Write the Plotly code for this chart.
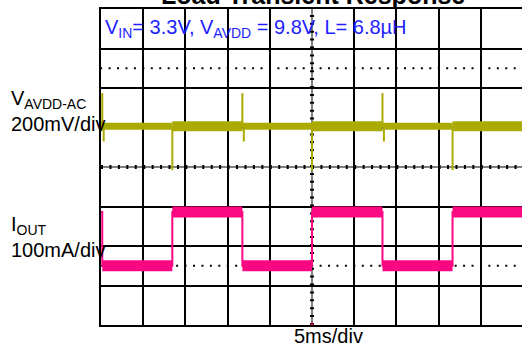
import plotly.graph_objects as go

# ---------------- data ----------------
edge_times_ms = [-24.85, -16.55, -8.25, 0.0, 8.35, 16.65]      # load-step edges
iout_levels_mA = [186, 50, 186, 50, 186, 50, 186]               # level before 1st edge, then after each edge
vout_spike_pos_mV = [168, 0, 168, 0, 168, 0]                     # overshoot at each edge
vout_spike_neg_mV = [-77, -222, -77, -222, -77, -222]            # undershoot at each edge
vout_spike_neg_delay_ms = [0.17, 0.0, 0.17, 0.0, 0.17, 0.0]
time_range_ms = [-25.0, 24.88]
v_scale_mV_per_div = 200
i_scale_mA_per_div = 100
ch1_ground_div = 1.03
ch2_ground_div = -3.0
x_grid_ms = [-20, -15, -10, -5, 5, 10, 15, 20]
y_grid_div = [-3, -2, -1, 1, 2, 3]

# ---------------- styles ----------------
YEL = "#AAAA00"
PINK = "#FA0882"
BLUE = "#1E1EFF"
FONT = "Liberation Sans, Arial, sans-serif"
W, H = 522, 344

t0, t1 = time_range_ms
i_hi = max(iout_levels_mA)

def idiv(mA):
    return ch2_ground_div + mA / i_scale_mA_per_div

def vdiv(mV):
    return ch1_ground_div + mV / v_scale_mV_per_div

# current step trace (thin)
sx, sy = [t0], [idiv(iout_levels_mA[0])]
for k, t in enumerate(edge_times_ms):
    sx += [t, t]
    sy += [idiv(iout_levels_mA[k]), idiv(iout_levels_mA[k + 1])]
sx.append(t1)
sy.append(idiv(iout_levels_mA[-1]))

# plateaus (noise bands)
bounds = [t0] + edge_times_ms + [t1]
ibx, iby = [], []
vlx, vly, vhx, vhy = [], [], [], []
for k in range(len(bounds) - 1):
    a, b = bounds[k], bounds[k + 1]
    lvl = iout_levels_mA[k]
    if k > 0:
        ibx += [a, b, None]
        iby += [idiv(lvl), idiv(lvl), None]
    if lvl == i_hi:
        vhx += [a, b, None]; vhy += [vdiv(0), vdiv(0), None]
    else:
        vlx += [a, b, None]; vly += [vdiv(0), vdiv(0), None]

# spikes on VAVDD
spx, spy = [], []
for t, p, n, d in zip(edge_times_ms, vout_spike_pos_mV, vout_spike_neg_mV, vout_spike_neg_delay_ms):
    if p:
        spx += [t, t, None]; spy += [vdiv(0), vdiv(p), None]
    spx += [t + d, t + d, None]; spy += [vdiv(0), vdiv(n), None]

fig = go.Figure()

# graticule extras
fig.add_trace(go.Scatter(x=[t0, t1], y=[0, 0], mode="lines", line=dict(color="black", width=1), hoverinfo="skip"))
fig.add_trace(go.Scatter(x=[t0, t1], y=[0, 0], mode="lines", line=dict(color="black", width=4, dash="2px,6.44px"), hoverinfo="skip"))
fig.add_trace(go.Scatter(x=[0, 0], y=[-4, 4], mode="lines", line=dict(color="black", width=1), hoverinfo="skip"))
fig.add_trace(go.Scatter(x=[0, 0], y=[-4, 4], mode="lines", line=dict(color="black", width=4, dash="2px,5.9px"), hoverinfo="skip"))
for yy in (2.5, -2.5):
    fig.add_trace(go.Scatter(x=[t0 - 0.1, t1], y=[yy, yy], mode="lines",
                             line=dict(color="black", width=2, dash="2px,6.44px"), hoverinfo="skip"))

# VAVDD trace
fig.add_trace(go.Scatter(x=vlx, y=vly, mode="lines", line=dict(color=YEL, width=7), hoverinfo="skip"))
fig.add_trace(go.Scatter(x=vhx, y=vhy, mode="lines", line=dict(color=YEL, width=10), hoverinfo="skip"))
fig.add_trace(go.Scatter(x=spx, y=spy, mode="lines", line=dict(color=YEL, width=2), hoverinfo="skip"))

# IOUT trace
fig.add_trace(go.Scatter(x=sx, y=sy, mode="lines", line=dict(color=PINK, width=2, shape="linear"), hoverinfo="skip"))
fig.add_trace(go.Scatter(x=ibx, y=iby, mode="lines", line=dict(color=PINK, width=11), hoverinfo="skip"))

# channel ground markers & trigger marker
fig.add_trace(go.Scatter(x=[t0 - 0.45], y=[ch2_ground_div], mode="markers", cliponaxis=False,
                         marker=dict(symbol="line-ew", size=8, line=dict(color=PINK, width=2)), hoverinfo="skip"))
fig.add_trace(go.Scatter(x=[t0 - 0.45], y=[ch1_ground_div], mode="markers", cliponaxis=False,
                         marker=dict(symbol="line-ew", size=8, line=dict(color=YEL, width=3)), hoverinfo="skip"))
fig.add_trace(go.Scatter(x=[0], y=[-4], mode="markers", cliponaxis=False,
                         marker=dict(symbol="square", size=3, color=PINK), hoverinfo="skip"))

def py(pix):
    return (H - pix) / H

ann = [
    dict(text="<b>Load Transient Response</b>", x=312.5 / W, y=py(11.3), xanchor="center", yanchor="bottom",
         font=dict(size=25, color="black")),
    dict(text="V<sub>IN</sub>= 3.3V, V<sub>AVDD</sub> = 9.8V, L= 6.8µH", x=103 / W, y=py(28.9),
         xanchor="left", yanchor="middle", font=dict(size=20, color=BLUE)),
    dict(text="V<sub>AVDD-AC</sub>", x=8.5 / W, y=py(99.6), xanchor="left", yanchor="middle",
         font=dict(size=20, color="black")),
    dict(text="200mV/div", x=8.5 / W, y=py(124.1), xanchor="left", yanchor="middle",
         font=dict(size=20, color="black")),
    dict(text="I<sub>OUT</sub>", x=8.5 / W, y=py(225.6), xanchor="left", yanchor="middle",
         font=dict(size=20, color="black")),
    dict(text="100mA/div", x=8.5 / W, y=py(249.8), xanchor="left", yanchor="middle",
         font=dict(size=20, color="black")),
    dict(text="5ms/div", x=328.5 / W, y=py(335.8), xanchor="center", yanchor="middle",
         font=dict(size=20, color="black")),
]
for a in ann:
    a.update(xref="paper", yref="paper", showarrow=False, borderpad=1)

fig.update_layout(
    width=W, height=H, autosize=False,
    margin=dict(l=0, r=0, t=0, b=0, pad=0),
    paper_bgcolor="white", plot_bgcolor="white",
    showlegend=False,
    font=dict(family=FONT),
    annotations=ann,
    xaxis=dict(range=time_range_ms, domain=[101 / W, 1], tickvals=x_grid_ms, showticklabels=False,
               ticks="", showgrid=True, gridcolor="black", gridwidth=2, zeroline=False,
               showline=True, linecolor="black", linewidth=2, mirror=True, fixedrange=True),
    yaxis=dict(range=[-4, 4], domain=[py(325), py(9)], tickvals=y_grid_div, showticklabels=False,
               ticks="", showgrid=True, gridcolor="black", gridwidth=2, zeroline=False,
               showline=True, linecolor="black", linewidth=2, mirror=False, fixedrange=True),
)

fig.write_html("out.html", config=dict(displayModeBar=False))
